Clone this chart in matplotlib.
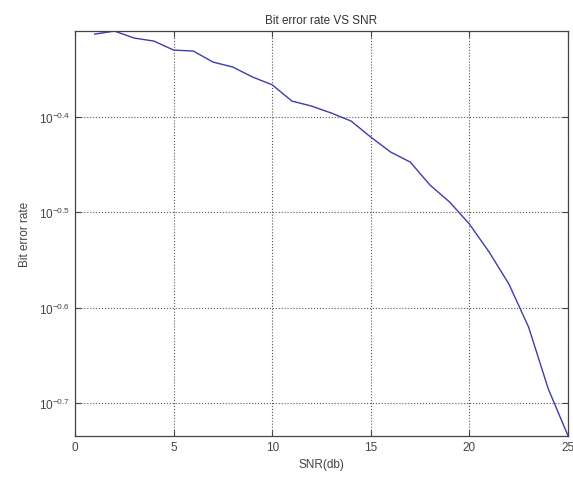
import matplotlib
matplotlib.use("Agg")
import matplotlib.pyplot as plt
import numpy as np

snr_db = [1, 2, 3, 4, 5, 6, 7, 8, 9, 10, 11, 12, 13,
          14, 15, 16, 17, 18, 19, 20, 21, 22, 23, 24, 25]
ber = [0.4865, 0.4901, 0.4819, 0.4784, 0.4681, 0.4670, 0.4547, 0.4493,
       0.4386, 0.4304, 0.4138, 0.4088, 0.4020, 0.3943, 0.3793, 0.3659,
       0.3571, 0.3378, 0.3242, 0.3074, 0.2873, 0.2660, 0.2397, 0.2064,
       0.1843]

x_ticks = [0, 5, 10, 15, 20, 25]
y_exps = [-0.7, -0.6, -0.5, -0.4]
y_labels = [r"$10^{-0.7}$", r"$10^{-0.6}$", r"$10^{-0.5}$", r"$10^{-0.4}$"]

plt.rcParams['font.family'] = ['Liberation Sans', 'DejaVu Sans']
plt.rcParams['mathtext.fontset'] = 'custom'
plt.rcParams['mathtext.rm'] = 'Liberation Sans'
plt.rcParams['mathtext.it'] = 'Liberation Sans'

fig = plt.figure(figsize=(5.73, 4.81), dpi=100)
ax = fig.add_axes([0.1309, 0.0915, 0.8604, 0.842])

ax.semilogy(snr_db, ber, color='#3c3cb0', linewidth=1.0)

ax.set_xlim(0, 25)
ax.set_ylim(0.1842, 0.4902)
ax.set_xticks(x_ticks)
ax.set_xticklabels([str(t) for t in x_ticks])
ax.set_yticks([10 ** e for e in y_exps])
ax.set_yticklabels(y_labels)
ax.yaxis.set_minor_locator(matplotlib.ticker.NullLocator())

ax.grid(True, linestyle=':', color='#555555', linewidth=0.8)
ax.tick_params(direction='in', top=True, right=True, length=4,
               labelsize=8.5, colors='#444444', labelcolor='#444444')
for s in ax.spines.values():
    s.set_color('#444444')
    s.set_linewidth(0.9)

ax.set_title("Bit error rate VS SNR", fontsize=8.5, color='#333333', pad=6)
ax.set_xlabel("SNR(db)", fontsize=8.5, color='#444444', labelpad=4)
ax.set_ylabel("Bit error rate", fontsize=8.5, color='#444444', labelpad=6)

fig.savefig("out.png", dpi=100)
